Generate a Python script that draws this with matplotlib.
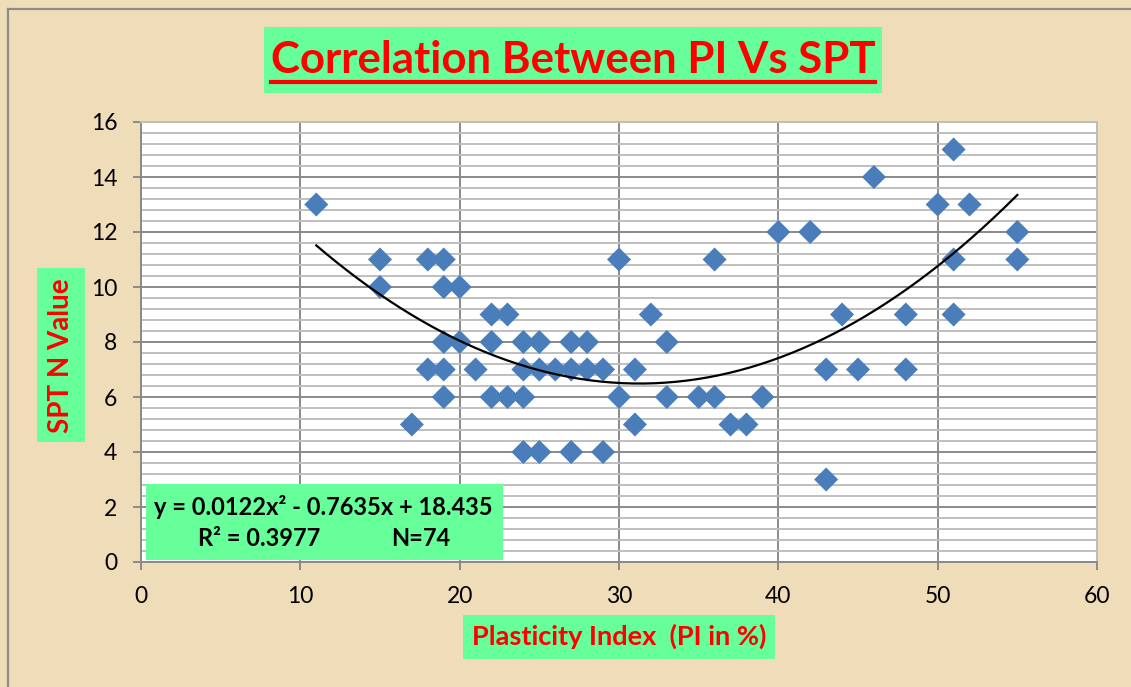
import numpy as np
import matplotlib.pyplot as plt
from matplotlib.patches import Rectangle
from matplotlib.lines import Line2D

# scatter data (PI %, SPT N)
pi_values = [51, 46, 11, 50, 52, 40, 42, 55,
             15, 18, 19, 30, 36, 51, 55,
             15, 19, 20,
             22, 23, 32, 44, 48, 51,
             19, 20, 22, 24, 25, 27, 28, 33,
             18, 19, 21, 24, 25, 26, 27, 28, 29, 31, 43, 45, 48,
             19, 22, 23, 24, 30, 33, 35, 36, 39,
             17, 31, 37, 38,
             24, 25, 27, 29,
             43]
spt_values = [15, 14, 13, 13, 13, 12, 12, 12,
              11, 11, 11, 11, 11, 11, 11,
              10, 10, 10,
              9, 9, 9, 9, 9, 9,
              8, 8, 8, 8, 8, 8, 8, 8,
              7, 7, 7, 7, 7, 7, 7, 7, 7, 7, 7, 7, 7,
              6, 6, 6, 6, 6, 6, 6, 6, 6,
              5, 5, 5, 5,
              4, 4, 4, 4,
              3]

# polynomial trendline as given on the chart
trend_coef = [0.0122, -0.7635, 18.435]
trend_range = [11, 55]

x_ticks = [0, 10, 20, 30, 40, 50, 60]
y_ticks = [0, 2, 4, 6, 8, 10, 12, 14, 16]

W, H = 1131, 687
GREEN = '#66FF99'
RED = '#FF0000'
FONT = ['Lato', 'DejaVu Sans']


def fx(px):
    return px / W


def fy(py):
    return 1 - py / H


fig = plt.figure(figsize=(W / 100, H / 100), dpi=100)
fig.patch.set_facecolor('#EEDDB8')

# chart frame (only left and top edges are visible)
fig.add_artist(Line2D([fx(8), fx(8)], [fy(9), 0], color='#8C8C8C', lw=1.6))
fig.add_artist(Line2D([fx(8), 1], [fy(9), fy(9)], color='#8C8C8C', lw=1.6))

ax = fig.add_axes([fx(141), fy(562), fx(1097) - fx(141), fy(122) - fy(562)])
ax.set_facecolor('white')
ax.set_xlim(0, 60)
ax.set_ylim(0, 16)
ax.set_xticks(x_ticks)
ax.set_yticks(y_ticks)
ax.set_yticks(np.arange(0, 16.01, 0.4), minor=True)
ax.grid(which='minor', axis='y', color='#BFBFBF', lw=1.4, zorder=0)
ax.grid(which='major', axis='y', color='#8A8A8A', lw=1.4, zorder=0)
ax.grid(which='major', axis='x', color='#8A8A8A', lw=1.4, zorder=0)
ax.set_axisbelow(True)
ax.tick_params(which='major', length=6, width=1.4, color='#8A8A8A',
               labelsize=16.5)
ax.tick_params(which='minor', length=0)
ax.tick_params(axis='x', pad=11)
ax.tick_params(axis='y', pad=11)
for lab in ax.get_xticklabels() + ax.get_yticklabels():
    lab.set_family(FONT)
for side in ['left', 'bottom']:
    ax.spines[side].set_color('#8A8A8A')
    ax.spines[side].set_linewidth(1.4)
for side in ['top', 'right']:
    ax.spines[side].set_color('#BFBFBF')
    ax.spines[side].set_linewidth(1.4)

ax.scatter(pi_values, spt_values, marker='D', s=150, color='#4A7EBB',
           edgecolors='none', zorder=3)

xs = np.linspace(trend_range[0], trend_range[1], 200)
ax.plot(xs, np.polyval(trend_coef, xs), color='black', lw=1.6, zorder=4)

# title box
fig.add_artist(Rectangle((fx(264), fy(93)), fx(882) - fx(264), fy(27) - fy(93),
                         facecolor=GREEN, edgecolor='none'))
title = fig.text(fx(573), fy(60), 'Correlation Between PI Vs SPT', color=RED,
                 fontsize=31.5, fontweight='bold', family=FONT,
                 ha='center', va='center')
bb = title.get_window_extent(fig.canvas.get_renderer())
fig.add_artist(Line2D([bb.x0 / W, bb.x1 / W], [fy(82), fy(82)], color=RED, lw=3))

# y label box
fig.add_artist(Rectangle((fx(37), fy(442)), fx(85) - fx(37), fy(268) - fy(442),
                         facecolor=GREEN, edgecolor='none'))
fig.text(fx(61), fy(356), 'SPT N Value', color=RED, fontsize=20,
         fontweight='bold', family=FONT, rotation=90, ha='center', va='center')

# x label box
fig.add_artist(Rectangle((fx(463), fy(659)), fx(775) - fx(463), fy(615) - fy(659),
                         facecolor=GREEN, edgecolor='none'))
fig.text(fx(619), fy(636), 'Plasticity Index  (PI in %)', color=RED, fontsize=19.5,
         fontweight='bold', family=FONT, ha='center', va='center')

# equation box
fig.add_artist(Rectangle((fx(146), fy(560)), fx(503) - fx(146), fy(484) - fy(560),
                         facecolor=GREEN, edgecolor='none', zorder=5))
fig.text(fx(323), fy(507), 'y = 0.0122x² - 0.7635x + 18.435', color='black',
         fontsize=17, fontweight='bold', family=FONT, ha='center', va='center',
         zorder=6)
fig.text(fx(198), fy(539), 'R² = 0.3977', color='black', fontsize=17,
         fontweight='bold', family=FONT, ha='left', va='center', zorder=6)
fig.text(fx(391), fy(539), 'N=74', color='black', fontsize=17,
         fontweight='bold', family=FONT, ha='left', va='center', zorder=6)

fig.savefig('out.png', dpi=100, facecolor=fig.get_facecolor())
